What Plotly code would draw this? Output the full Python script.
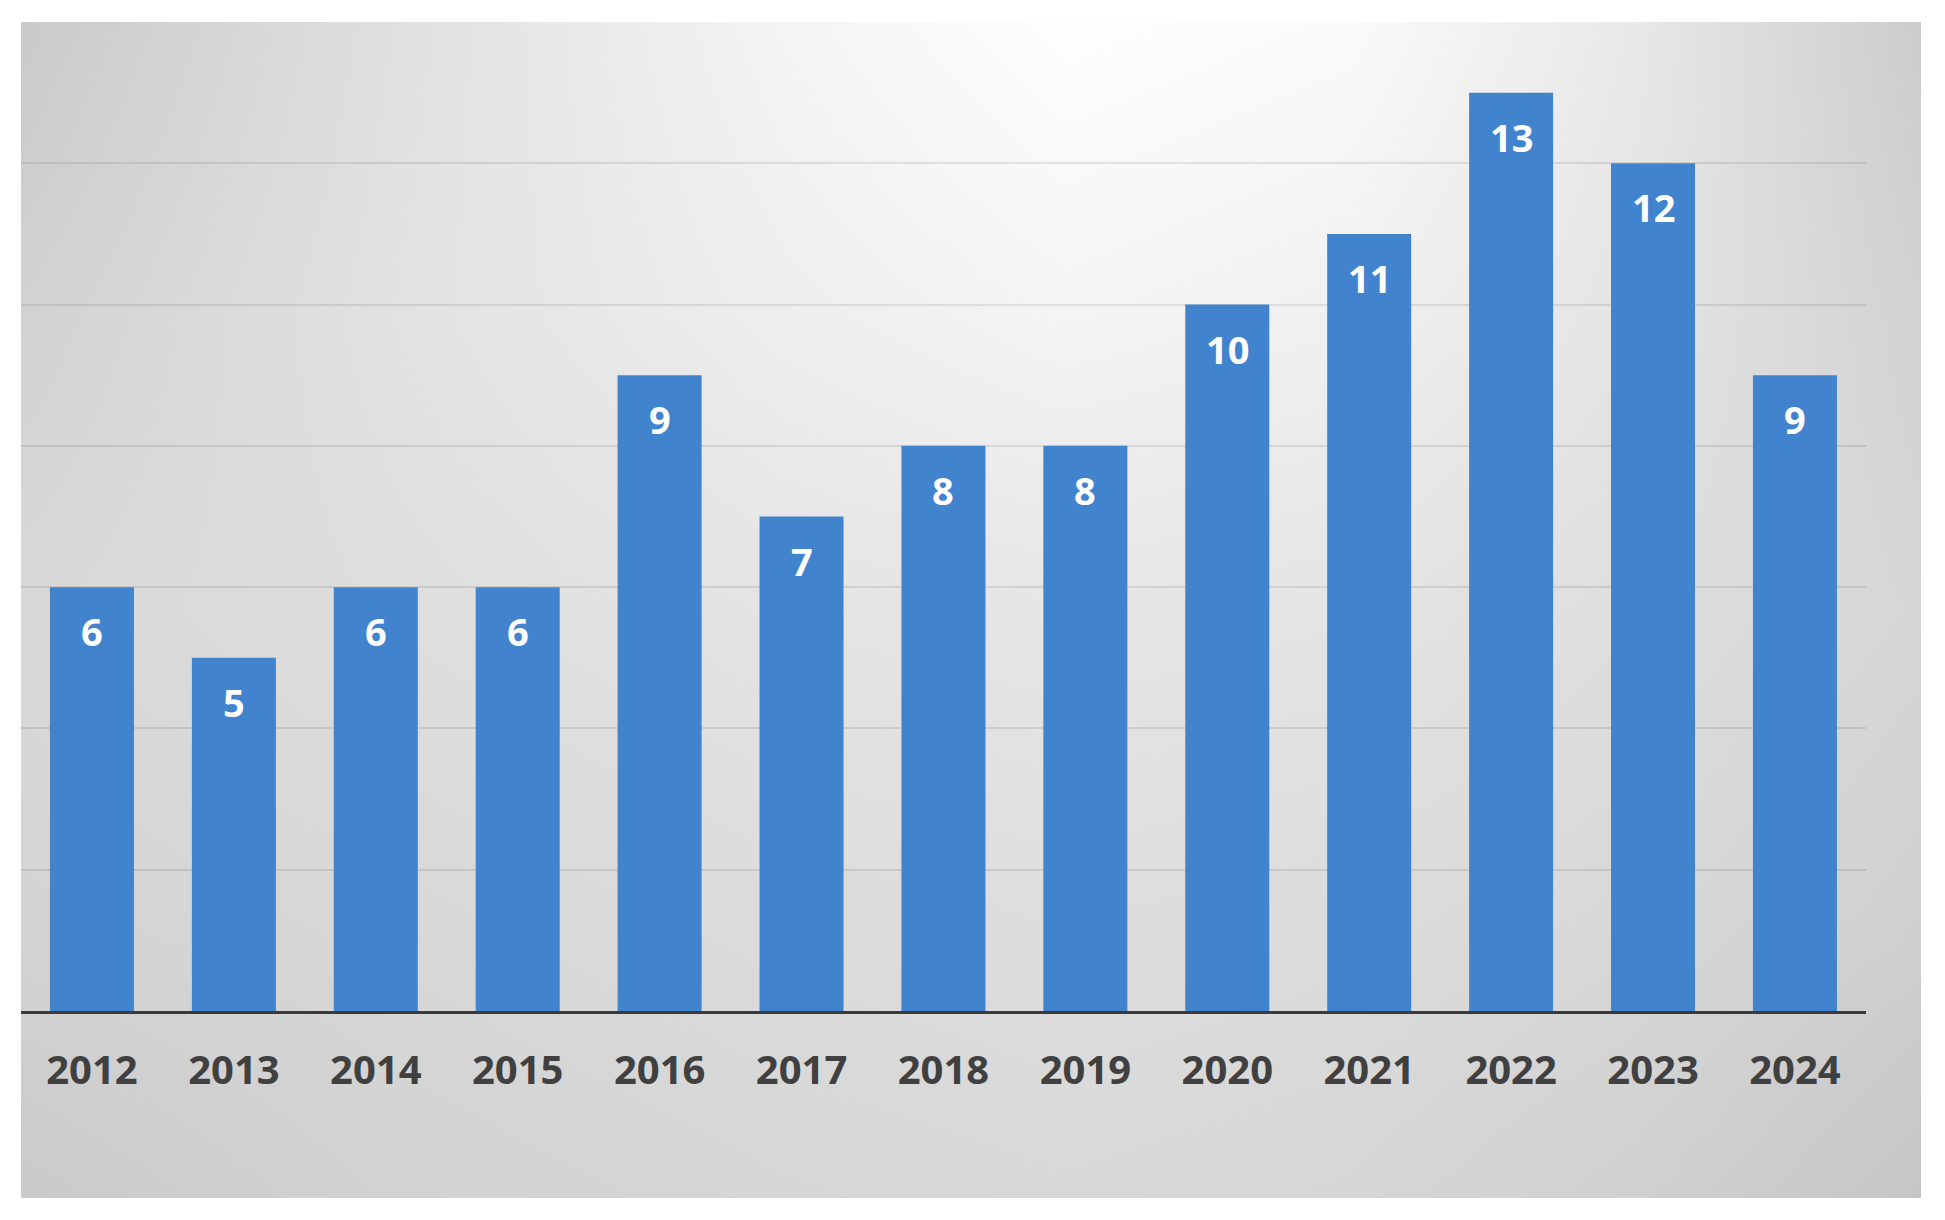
import plotly.graph_objects as go

# ---- data ----
years = ["2012", "2013", "2014", "2015", "2016", "2017", "2018",
         "2019", "2020", "2021", "2022", "2023", "2024"]
counts = [6, 5, 6, 6, 9, 7, 8, 8, 10, 11, 13, 12, 9]

# ---- background gradient (gray levels) ----
bg_x = [0, 0.2, 0.4, 0.55, 0.7, 0.85, 1.0]
bg_y = [1.0, 0.75, 0.5, 0.25, 0.0]          # top -> bottom
bg_gray = [
    [202, 224, 244, 254, 250, 232, 204],
    [210, 226, 238, 244, 240, 228, 210],
    [216, 222, 228, 230, 228, 222, 214],
    [212, 216, 220, 222, 220, 216, 208],
    [202, 210, 214, 216, 214, 208, 198],
]

BAR = "rgb(66,131,206)"
FONT = "Open Sans"

fig = go.Figure()

fig.add_trace(go.Heatmap(
    x=bg_x, y=bg_y, z=bg_gray, zsmooth="best",
    colorscale=[[0, "rgb(0,0,0)"], [1, "rgb(255,255,255)"]],
    zmin=0, zmax=255, showscale=False, hoverinfo="skip",
    xaxis="x", yaxis="y",
))

fig.add_trace(go.Bar(
    x=years, y=counts, marker=dict(color=BAR, line=dict(width=0)),
    xaxis="x2", yaxis="y2", hoverinfo="x+y",
))

# value labels: category axes position annotations by category index
for i, v in enumerate(counts):
    fig.add_annotation(
        x=i, y=v, xref="x2", yref="y2", text=str(v), showarrow=False,
        yanchor="middle", yshift=-44,
        font=dict(family=FONT, size=38, color="white", weight="bold"),
    )

fig.update_layout(
    width=1929, height=1204,
    margin=dict(l=13, r=16, t=14, b=14, autoexpand=False),
    paper_bgcolor="white", plot_bgcolor="rgba(0,0,0,0)",
    showlegend=False, bargap=0.408,
    xaxis=dict(domain=[0, 1], range=[0, 1], visible=False, fixedrange=True),
    yaxis=dict(domain=[0, 1], range=[0, 1], visible=False, fixedrange=True),
    xaxis2=dict(type="category", domain=[0, 0.971], anchor="y2", showgrid=False,
                range=[-0.5, len(years) - 0.5],
                showline=True, linecolor="#3a3a3a", linewidth=3,
                ticks="", ticklabelstandoff=22, automargin=False,
                tickfont=dict(family=FONT, size=40, color="#404040", weight="bold")),
    yaxis2=dict(domain=[0.159, 1], anchor="x2", range=[0, 14], dtick=2,
                showgrid=True, gridcolor="rgba(0,0,0,0.09)", gridwidth=2,
                showticklabels=False, zeroline=False, showline=False),
)

fig.write_html("out.html")
